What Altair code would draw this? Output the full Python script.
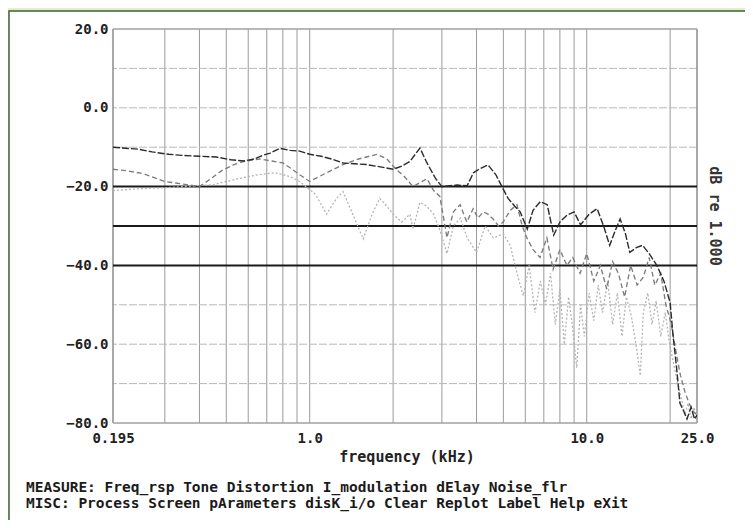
import altair as alt
import pandas as pd

# ---------------- data ----------------
x_tick_values = [0.195, 1.0, 10.0, 25.0]
x_tick_labels = ["0.195", "1.0", "10.0", "25.0"]
y_tick_values = [20, 0, -20, -40, -60, -80]

grid_freqs = [0.3, 0.4, 0.5, 0.6, 0.7, 0.8, 0.9, 1.0, 2.0, 3.0, 4.0, 5.0, 6.0, 7.0, 8.0, 9.0, 10.0, 20.0]
grid_levels = [10, 0, -10, -50, -60, -70]
ref_levels = [-20, -30, -40]
border_freqs = [0.195, 25.0]
border_levels = [20, -80]

freq_a = [0.195, 0.21, 0.24, 0.27, 0.31, 0.35, 0.40, 0.46, 0.52, 0.58, 0.63, 0.68, 0.72, 0.78, 0.85,
          0.92, 1.0, 1.1, 1.2, 1.32, 1.45, 1.6, 1.8, 2.0, 2.15, 2.3, 2.5, 2.65, 2.85, 3.0, 3.2, 3.4,
          3.7, 3.9, 4.1, 4.4, 4.7, 4.9, 5.2, 5.5, 5.75, 6.1, 6.4, 6.8, 7.2, 7.6, 8.0, 8.5, 9.0, 9.5,
          10.2, 10.9, 11.5, 12.1, 12.7, 13.2, 13.8, 14.3, 15.1, 15.9, 16.8, 17.9, 19.0, 20.0, 20.5,
          21.1, 21.7, 22.4, 23.0, 23.8, 24.5, 25.0]
db_a = [-10, -10.2, -10.5, -11.2, -11.8, -12.1, -12.3, -12.5, -13.2, -13.5, -13, -12, -11.5, -10.3,
        -10.8, -11, -11.8, -12.3, -13, -14, -14.2, -14.4, -15, -15.6, -14.8, -13.6, -10.2, -14, -18,
        -20, -19.8, -19.6, -19.8, -16.5, -15.5, -14.5, -17, -19.5, -23, -25, -26.4, -30.8, -26,
        -23.8, -24.6, -32.3, -29, -27.2, -26.4, -29.7, -27, -25.6, -30, -34.9, -31, -28.2, -32,
        -36.7, -35.5, -34.9, -37, -40, -44, -49.5, -58, -66, -75, -77, -79, -76, -79, -78]

freq_b = [0.195, 0.22, 0.25, 0.30, 0.36, 0.40, 0.44, 0.48, 0.53, 0.58, 0.66, 0.73, 0.80, 0.86, 0.92,
          1.0, 1.15, 1.32, 1.5, 1.75, 1.9, 2.05, 2.2, 2.36, 2.5, 2.65, 2.8, 2.95, 3.13, 3.3, 3.49,
          3.69, 3.89, 4.05, 4.23, 4.4, 4.59, 4.8, 4.99, 5.3, 5.6, 5.85, 6.08, 6.4, 6.78, 7.18, 7.56,
          8.0, 8.48, 8.9, 9.46, 10.0, 10.6, 11.2, 11.8, 12.4, 13.0, 13.7, 14.4, 15.2, 16.0, 16.8,
          17.6, 18.5, 19.3, 20.2, 21.0, 21.8, 22.6, 23.4, 24.2, 25.0]
db_b = [-15.6, -16, -16.7, -18.7, -19.5, -20, -18, -16, -14.5, -13.6, -13, -13.5, -14, -15.5, -17,
        -18.7, -16.5, -14.4, -13, -11.8, -13, -15.6, -17.5, -20, -19, -18, -21, -22.5, -33, -26.4,
        -24.6, -29, -25.6, -28, -26.4, -27, -28.2, -30, -29, -26, -24.6, -30, -33, -36, -38, -33,
        -41, -36, -40, -38, -42, -37, -44, -40, -46, -39, -42, -48, -40, -45, -43, -38, -45, -42,
        -50, -55, -62, -68, -72, -75, -77, -78]

freq_c = [0.195, 0.25, 0.30, 0.35, 0.45, 0.55, 0.65, 0.75, 0.85, 0.92, 1.05, 1.15, 1.25, 1.32, 1.45,
          1.56, 1.68, 1.79, 1.9, 2.0, 2.15, 2.3, 2.36, 2.5, 2.65, 2.8, 2.95, 3.13, 3.3, 3.5, 3.7,
          4.0, 4.3, 4.6, 5.0, 5.3, 5.6, 5.9, 6.2, 6.5, 6.8, 7.1, 7.4, 7.7, 8.0, 8.3, 8.6, 8.9, 9.2,
          9.5, 9.8, 10.2, 10.6, 11.0, 11.4, 11.9, 12.4, 12.9, 13.4, 13.9, 14.5, 15.2, 15.6, 16.0,
          16.6, 17.2, 17.8, 18.5, 19.2, 19.9, 20.6, 21.3, 22.0, 22.6, 23.2, 23.8, 24.4, 25.0]
db_c = [-21, -20.5, -20.3, -20, -19.5, -18, -17, -16.5, -17.5, -18.7, -22, -27, -23, -21.3, -28,
        -33.3, -27, -23, -25, -27, -29, -27, -30.8, -24, -25, -27, -31, -37, -30, -28, -33, -36.7,
        -30, -33, -32, -35, -42, -47.7, -40, -52, -44, -50, -42, -55, -46, -60, -48, -56, -66, -50,
        -58, -47, -54, -45, -52, -44, -55, -47, -58, -48, -53, -62, -68, -52, -47, -55, -49, -58,
        -52, -60, -65, -70, -74, -78, -75, -79, -76, -80]

series_names = ["light", "medium", "dark"]
series_colors = ["#b4b4b4", "#7c7c7c", "#2a2a2a"]
series_dash = [[2, 2], [5, 3], [7, 2]]
series_width = [1.3, 1.4, 1.6]

frames = []
for name, fr, db in [("light", freq_c, db_c), ("medium", freq_b, db_b), ("dark", freq_a, db_a)]:
    frames.append(pd.DataFrame({"freq": fr, "db": db, "series": name, "idx": range(len(fr))}))
curves = pd.concat(frames, ignore_index=True)

# ---------------- chart ----------------
MONO = "DejaVu Sans Mono"
xs = alt.Scale(type="log", domain=[0.195, 25.0], nice=False)
ys = alt.Scale(domain=[-80, 20], nice=False)

label_expr = " : ".join(
    [f"datum.value == {v} ? '{t}'" for v, t in zip(x_tick_values, x_tick_labels)] + ["''"]
)
x_axis = alt.Axis(values=x_tick_values, labelExpr=label_expr, ticks=False, domain=False, grid=False,
                  labelFont=MONO, labelFontSize=14, labelFontWeight="bold", labelColor="#222",
                  labelPadding=8, labelFlush=False, title=None, zindex=1)
y_axis = alt.Axis(values=y_tick_values, format=".1f", ticks=False, domain=False, grid=False,
                  labelFont=MONO, labelFontSize=14, labelFontWeight="bold", labelColor="#222",
                  labelPadding=5, title=None, zindex=1)

panel = alt.Chart(pd.DataFrame({"k": [0]})).mark_rect(
    fill="white", stroke="#3f5f3a", strokeWidth=1.5
).encode(x=alt.value(-104), x2=alt.value(650), y=alt.value(-18), y2=alt.value(505))

vgrid = alt.Chart(pd.DataFrame({"f": grid_freqs})).mark_rule(color="#9a9a9a", strokeWidth=1).encode(
    x=alt.X("f:Q", scale=xs, axis=x_axis))
hgrid = alt.Chart(pd.DataFrame({"v": grid_levels})).mark_rule(
    color="#b8b8b8", strokeWidth=1, strokeDash=[8, 2]).encode(y=alt.Y("v:Q", scale=ys, axis=y_axis))
vborder = alt.Chart(pd.DataFrame({"f": border_freqs})).mark_rule(color="#8c8c8c", strokeWidth=1.5).encode(
    x=alt.X("f:Q", scale=xs, axis=x_axis))
hborder = alt.Chart(pd.DataFrame({"v": border_levels})).mark_rule(color="#a0a0a0", strokeWidth=1.5).encode(
    y=alt.Y("v:Q", scale=ys, axis=y_axis))
refs = alt.Chart(pd.DataFrame({"v": ref_levels})).mark_rule(color="#1a1a1a", strokeWidth=2).encode(
    y=alt.Y("v:Q", scale=ys, axis=y_axis))

lines = alt.Chart(curves).mark_line(clip=True).encode(
    x=alt.X("freq:Q", scale=xs, axis=x_axis),
    y=alt.Y("db:Q", scale=ys, axis=y_axis),
    color=alt.Color("series:N", scale=alt.Scale(domain=series_names, range=series_colors), legend=None),
    strokeDash=alt.StrokeDash("series:N", scale=alt.Scale(domain=series_names, range=series_dash), legend=None),
    strokeWidth=alt.StrokeWidth("series:N", scale=alt.Scale(domain=series_names, range=series_width), legend=None),
    order="idx:Q",
)

right_label = alt.Chart(pd.DataFrame({"t": ["dB  re   1.000"]})).mark_text(
    font=MONO, fontSize=15, fontWeight="bold", angle=90, align="center", baseline="middle", color="#333"
).encode(x=alt.value(602), y=alt.value(187), text="t:N")

x_title = alt.Chart(pd.DataFrame({"t": ["frequency (kHz)"]})).mark_text(
    font=MONO, fontSize=15, fontWeight="bold", align="center", baseline="middle", color="#222"
).encode(x=alt.value(294), y=alt.value(428), text="t:N")

menu1 = alt.Chart(pd.DataFrame({"t": ["MEASURE: Freq_rsp Tone Distortion I_modulation dElay Noise_flr"]})).mark_text(
    font=MONO, fontSize=14.5, fontWeight="bold", align="left", baseline="middle", color="#1a1a1a"
).encode(x=alt.value(-87), y=alt.value(459), text="t:N")
menu2 = alt.Chart(pd.DataFrame({"t": ["MISC: Process Screen pArameters disK_i/o Clear Replot Label Help eXit"]})).mark_text(
    font=MONO, fontSize=14.5, fontWeight="bold", align="left", baseline="middle", color="#1a1a1a"
).encode(x=alt.value(-87), y=alt.value(475), text="t:N")

chart = alt.layer(
    panel, vgrid, hgrid, vborder, hborder, refs, lines, right_label, x_title, menu1, menu2
).properties(
    width=584, height=394,
    padding={"left": 105, "top": 21, "right": 48, "bottom": 97},
    autosize="none",
    background="#e3f1c6",
).configure_view(stroke=None)

chart.save("out.html", embed_options={"renderer": "svg", "actions": False})
